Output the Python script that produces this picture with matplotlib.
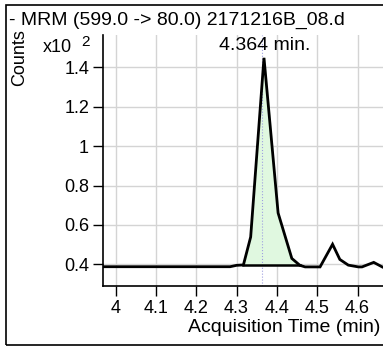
import matplotlib.pyplot as plt
from matplotlib.patches import Rectangle

plt.rcParams['font.family'] = ['Liberation Sans', 'DejaVu Sans']

# chromatogram trace (time in min, counts in x10^2)
time = [3.969, 4.284, 4.300, 4.317, 4.335, 4.368, 4.403, 4.437, 4.457, 4.470,
        4.507, 4.538, 4.556, 4.577, 4.602, 4.611, 4.640, 4.661]
counts = [0.388, 0.388, 0.395, 0.397, 0.539, 1.449, 0.661, 0.430, 0.395, 0.387,
          0.387, 0.502, 0.425, 0.396, 0.387, 0.387, 0.410, 0.387]

# integrated peak region and its baseline
peak_start, peak_end = 4.317, 4.457
peak_base = 0.397
peak_rt = 4.364
peak_label = "4.364 min."

x_ticks = [4.0, 4.1, 4.2, 4.3, 4.4, 4.5, 4.6]
x_tick_labels = ["4", "4.1", "4.2", "4.3", "4.4", "4.5", "4.6"]
y_ticks = [0.4, 0.6, 0.8, 1.0, 1.2, 1.4]
y_tick_labels = ["0.4", "0.6", "0.8", "1", "1.2", "1.4"]

fig = plt.figure(figsize=(3.83, 3.47), dpi=100)
ax = fig.add_axes([103 / 383, 61 / 347, 280 / 383, 251 / 347])

# shaded peak area between baseline and trace
seg_t = [t for t in time if peak_start <= t <= peak_end]
seg_c = [c for t, c in zip(time, counts) if peak_start <= t <= peak_end]
ax.fill_between(seg_t, peak_base, seg_c, color='#e0f8e0', zorder=1)
ax.plot([peak_start, peak_end], [peak_base, peak_base], color='black', lw=1.8, zorder=3)

ax.plot(time, counts, color='black', lw=2, zorder=3, solid_joinstyle='miter')
ax.axvline(peak_rt, color='#a0a0e0', lw=0.8, ls=':', zorder=2)
ax.text(peak_rt + 0.006, 1.513, peak_label, ha='center', va='center', fontsize=14)

ax.set_xlim(3.969, 4.663)
ax.set_ylim(0.29, 1.565)
ax.set_xticks(x_ticks)
ax.set_xticklabels(x_tick_labels)
ax.set_yticks(y_ticks)
ax.set_yticklabels(y_tick_labels)
ax.tick_params(direction='out', length=7, width=1, labelsize=13, pad=3, color='black')
ax.grid(True, color='#d4d4d4', lw=1)
ax.set_axisbelow(True)
for side in ['top', 'right']:
    ax.spines[side].set_visible(False)
for side in ['left', 'bottom']:
    ax.spines[side].set_linewidth(1.2)

# outer frame, title and labels
fig.patches.append(Rectangle((6 / 383, 2 / 347), 1.0, 340 / 347, transform=fig.transFigure,
                             fill=False, edgecolor='black', lw=1.2, clip_on=False))
fig.text(9 / 383, 1 - 20 / 347, "- MRM (599.0 -> 80.0) 2171216B_08.d",
         ha='left', va='center', fontsize=14)
fig.text(20 / 383, 1 - 58 / 347, "Counts", rotation=90, ha='center', va='center', fontsize=13)
fig.text(43 / 383, 1 - 48 / 347, "x10", ha='left', va='center', fontsize=13)
fig.text(86 / 383, 1 - 42 / 347, "2", ha='center', va='center', fontsize=11)
fig.text(380 / 383, 1 - 328 / 347, "Acquisition Time (min)", ha='right', va='center', fontsize=14)

fig.savefig('out.png', dpi=100)
